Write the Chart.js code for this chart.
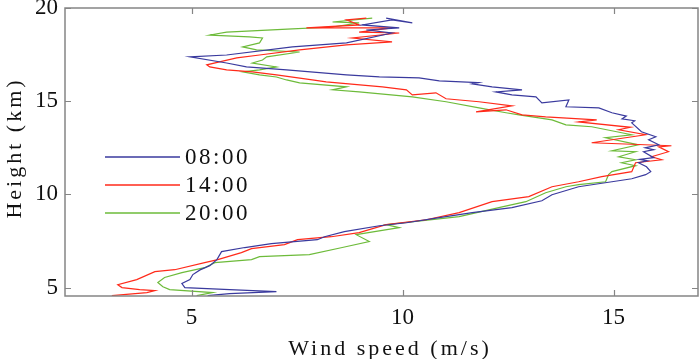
<!DOCTYPE html>
<html>
<head>
<meta charset="utf-8">
<script src="https://cdn.jsdelivr.net/npm/chart.js@4/dist/chart.umd.min.js"></script>
<style>
html,body{margin:0;padding:0;background:#fff;}
#wrap{width:700px;height:359px;position:relative;}
</style>
</head>
<body>
<div id="wrap"><canvas id="c" width="700" height="359"></canvas></div>
<script>
// ---- data (wind speed m/s, height km) ----
const seriesLabels = ["08:00", "14:00", "20:00"];
const seriesColors = ["#3a3a9e", "#ff2a1a", "#6dbb3a"];
const xTickValues = [5, 10, 15];
const yTickValues = [5, 10, 15, 20];

const speed08 = [5.38,5.90,7.01,5.90,4.84,4.77,4.96,5.03,5.20,5.43,5.60,5.71,6.26,6.89,7.98,8.15,8.62,9.45,10.09,10.87,11.65,12.59,13.30,13.54,14.17,14.96,15.43,15.76,15.88,15.78,15.59,15.80,15.62,15.95,15.71,15.95,15.75,16.07,15.83,16.00,15.66,15.43,15.50,15.20,15.30,14.96,14.65,13.87,13.94,13.30,13.16,12.59,12.21,12.83,12.12,11.65,11.80,10.87,10.39,9.45,8.67,7.25,6.30,5.83,4.96,5.83,7.39,8.67,9.75,9.14,9.92,9.04,9.75,10.23,9.61];
const height08 = [4.57,4.68,4.79,4.89,5.00,5.22,5.43,5.70,5.95,6.18,6.50,6.93,7.15,7.36,7.57,7.73,8.00,8.32,8.48,8.75,9.02,9.29,9.66,9.98,10.41,10.68,10.84,11.06,11.22,11.48,11.70,11.80,11.88,11.97,12.29,12.40,12.50,12.66,12.93,13.09,13.36,13.84,13.95,14.05,14.20,14.38,14.64,14.70,15.07,14.91,15.23,15.34,15.50,15.61,15.77,15.93,16.00,16.09,16.25,16.30,16.41,16.68,16.84,17.05,17.38,17.48,17.91,18.13,18.66,18.82,18.93,19.09,19.36,19.20,19.46];

const speed14 = [3.11,3.94,4.13,3.77,3.35,3.25,3.70,4.13,4.60,5.31,5.62,6.18,6.42,7.20,7.51,8.31,8.97,9.61,10.56,11.34,12.12,12.99,13.54,14.17,14.72,15.43,15.52,16.14,15.90,16.30,16.07,16.37,14.48,15.76,15.12,15.40,14.17,14.60,13.39,12.83,12.45,11.74,12.59,11.81,11.03,10.79,10.23,10.09,9.52,8.19,7.86,7.01,6.44,5.83,5.43,5.36,5.66,6.07,6.61,7.56,8.67,9.75,8.81,9.92,8.97,9.75,7.72,8.97,8.67,9.14];
const height14 = [4.57,4.73,4.84,4.89,5.00,5.16,5.43,5.86,5.96,6.34,6.50,6.88,7.09,7.31,7.57,7.73,7.95,8.38,8.64,9.02,9.61,9.88,10.41,10.68,10.95,11.22,11.70,11.86,12.02,12.29,12.55,12.61,12.77,13.20,13.47,13.60,13.89,14.00,14.16,14.27,14.54,14.43,14.75,14.97,15.13,15.45,15.34,15.61,15.77,16.04,16.14,16.41,16.57,16.68,16.84,16.95,17.11,17.32,17.48,17.75,18.02,18.18,18.39,18.66,18.71,18.93,18.93,19.09,19.36,19.46];

const speed20 = [5.12,5.50,4.48,4.32,4.20,4.36,4.77,5.31,5.55,6.42,6.61,7.79,8.57,9.21,8.90,9.92,9.61,11.34,12.28,12.92,13.39,13.87,14.17,14.81,14.88,14.96,15.52,15.19,15.52,15.12,15.52,14.96,15.59,14.81,15.43,14.48,13.87,13.54,13.23,12.76,12.45,11.81,11.03,10.23,8.97,8.34,8.67,7.56,7.25,7.01,6.61,6.21,6.61,7.01,6.44,6.68,6.78,7.56,6.54,6.21,6.61,6.68,6.37,5.43,5.83,7.39,8.34,8.97,8.34,9.28];
const height20 = [4.57,4.73,4.89,5.05,5.27,5.54,5.80,6.07,6.34,6.50,6.66,6.77,7.15,7.47,7.84,8.22,8.38,8.81,9.29,9.61,10.09,10.41,10.52,10.68,11.06,11.22,11.54,11.70,11.86,12.02,12.29,12.34,12.66,13.04,13.20,13.63,13.73,14.00,14.11,14.27,14.38,14.64,14.97,15.23,15.50,15.61,15.77,15.98,16.14,16.30,16.41,16.57,16.68,16.84,17.05,17.21,17.38,17.64,17.75,17.91,18.13,18.39,18.45,18.55,18.71,18.88,18.98,19.20,19.25,19.46];

function pts(xs, ys){ return xs.map((v,i)=>({x:v, y:ys[i]})); }
const allSpeeds = [speed08, speed14, speed20];
const allHeights = [height08, height14, height20];

const SERIF = '"Liberation Serif","DejaVu Serif",serif';

const framePlugin = {
  id: 'frame',
  afterDatasetsDraw(chart){
    const ctx = chart.ctx, a = chart.chartArea;
    const xs = chart.scales.x, ys = chart.scales.y;
    ctx.save();
    ctx.strokeStyle = '#858585';
    ctx.lineWidth = 1.5;
    ctx.strokeRect(a.left, a.top, a.right - a.left, a.bottom - a.top);
    ctx.lineWidth = 1.2;
    ctx.beginPath();
    const tl = 6;
    xTickValues.forEach(v=>{
      const p = Math.round(xs.getPixelForValue(v)) + 0.5;
      ctx.moveTo(p, a.bottom); ctx.lineTo(p, a.bottom - tl);
      ctx.moveTo(p, a.top); ctx.lineTo(p, a.top + tl);
    });
    yTickValues.forEach(v=>{
      const p = Math.round(ys.getPixelForValue(v)) + 0.5;
      ctx.moveTo(a.left, p); ctx.lineTo(a.left + tl, p);
      ctx.moveTo(a.right, p); ctx.lineTo(a.right - tl, p);
    });
    ctx.stroke();
    ctx.restore();

    // legend
    const lx0 = 105, lx1 = 180, ly = [157, 185, 213];
    for (let i = 0; i < seriesLabels.length; i++) {
      ctx.save();
      ctx.beginPath();
      ctx.strokeStyle = seriesColors[i];
      ctx.lineWidth = 1.3;
      ctx.moveTo(lx0, ly[i]);
      ctx.lineTo(lx1, ly[i]);
      ctx.stroke();
      ctx.restore();
    }
    for (let i = 0; i < seriesLabels.length; i++) {
      ctx.save();
      ctx.font = '23px ' + SERIF;
      ctx.textBaseline = 'middle';
      ctx.textAlign = 'left';
      try { ctx.letterSpacing = '2.5px'; } catch(e) {}
      ctx.fillStyle = '#111';
      ctx.fillText(seriesLabels[i], 185, ly[i] + 1);
      ctx.restore();
    }

    // axis titles
    ctx.save();
    ctx.fillStyle = '#111';
    ctx.font = '22px ' + SERIF;
    try { ctx.letterSpacing = '3px'; } catch(e) {}
    ctx.textAlign = 'center';
    ctx.textBaseline = 'alphabetic';
    ctx.fillText('Wind speed (m/s)', 390, 355);
    ctx.translate(21, 148);
    ctx.rotate(-Math.PI/2);
    ctx.fillText('Height (km)', 0, 0);
    ctx.restore();
  }
};

new Chart(document.getElementById('c'), {
  type: 'scatter',
  data: {
    datasets: seriesLabels.map((lab, i)=>({
      label: lab,
      data: pts(allSpeeds[i], allHeights[i]),
      showLine: true,
      borderColor: seriesColors[i],
      backgroundColor: seriesColors[i],
      borderWidth: 1.2,
      pointRadius: 0,
      tension: 0,
      fill: false
    }))
  },
  options: {
    responsive: false,
    animation: false,
    events: [],
    layout: { padding: { top: 8, right: 2, left: 0, bottom: 0 } },
    plugins: { legend: { display: false }, tooltip: { enabled: false } },
    scales: {
      x: {
        type: 'linear', min: 2, max: 17,
        afterBuildTicks(s){ s.ticks = xTickValues.map(v=>({value:v})); },
        afterFit(s){ s.height = 63; s.paddingLeft = 0; s.paddingRight = 0; },
        grid: { display: false, drawTicks: false },
        border: { display: false },
        ticks: { padding: 8, color: '#111', font: { family: SERIF, size: 23 }, maxRotation: 0 }
      },
      y: {
        type: 'linear', min: 4.55, max: 20,
        afterBuildTicks(s){ s.ticks = yTickValues.map(v=>({value:v})); },
        afterFit(s){ s.width = 65; s.paddingTop = 0; s.paddingBottom = 0; },
        grid: { display: false, drawTicks: false },
        border: { display: false },
        ticks: { padding: 7, color: '#111', font: { family: SERIF, size: 23 } }
      }
    }
  },
  plugins: [framePlugin]
});
</script>
</body>
</html>
